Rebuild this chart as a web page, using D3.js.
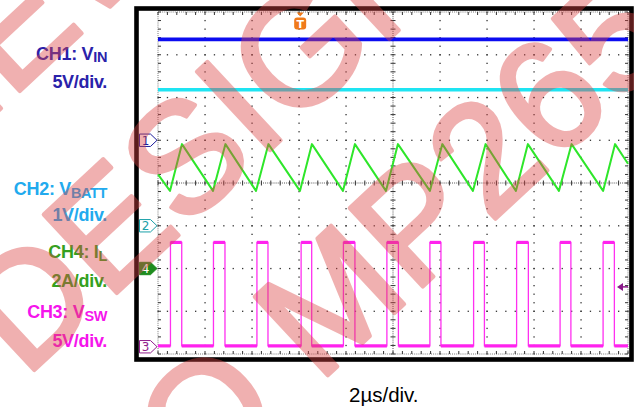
<!DOCTYPE html>
<html>
<head>
<meta charset="utf-8">
<script src="https://cdn.jsdelivr.net/npm/d3@7"></script>
<style>
  html, body { margin: 0; padding: 0; background: #fff; }
  svg { display: block; }
</style>
</head>
<body>
<svg id="chart" width="634" height="407"></svg>
<script>
// ---- Timebase and graticule ----
const timeDomain = [0, 20];          // µs, 10 divisions of 2 µs
const divisionsY = 8;

// ---- Channel settings: units per division, ground marker (divisions from centre) ----
const ch1Scale = 5, ch1Offset = 1;      // VIN, 5 V/div
const ch2Scale = 1, ch2Offset = -1;     // VBATT, 1 V/div
const ch4Scale = 2, ch4Offset = -2;     // IL, 2 A/div
const ch3Scale = 5, ch3Offset = -3.83;  // VSW, 5 V/div

// ---- CH1 / CH2 DC levels (V) ----
const vinLevel = 11.8;
const vbattLevel = 3.18;

// ---- CH3 switch node: edge times (µs) and levels (V) ----
const vswRise = [0.53, 2.36, 4.21, 6.09, 7.89, 9.74, 11.57, 13.43, 15.26, 17.11, 18.94];
const vswFall = [1.01, 2.85, 4.68, 6.54, 8.38, 10.23, 12.04, 13.89, 15.76, 17.57, 19.42];
const vswHigh = 12.2;
const vswLow = 0.1;

// ---- CH4 inductor current vertices ----
const ilTime  = [0, 0.51, 1.02, 2.34, 2.87, 4.17, 4.70, 6.04, 6.55, 7.87, 8.38, 9.70, 10.21, 11.57, 12.10, 13.40, 13.94, 15.23, 15.74, 17.06, 17.60, 18.94, 19.45, 20];
const ilValue = [4.40, 3.63, 5.82, 3.63, 5.82, 3.63, 5.82, 3.63, 5.82, 3.63, 5.82, 3.63, 5.82, 3.63, 5.82, 3.63, 5.82, 3.63, 5.82, 3.63, 5.82, 3.63, 5.82, 4.90];

// ---- Trigger ----
const triggerTime = 6.05;    // µs
const triggerLevel = 7.0;    // V on CH3

// ---- Labels ----
const channelLabels = [
  { main: "CH1: V", sub: "IN",   color: "#2a22aa" },
  { main: "5V/div.", sub: "",    color: "#2a22aa" },
  { main: "CH2: V", sub: "BATT", color: "#22aaee" },
  { main: "1V/div.", sub: "",    color: "#22aaee" },
  { main: "CH4: I", sub: "L",    color: "#35a020" },
  { main: "2A/div.", sub: "",    color: "#35a020" },
  { main: "CH3: V", sub: "SW",   color: "#f514ec" },
  { main: "5V/div.", sub: "",    color: "#f514ec" }
];
const labelBaselines = [59.5, 88.3, 195, 220.7, 258.3, 287.3, 318.3, 346.7];
const timeLabel = "2µs/div.";

// ---- Diagonal notice printed across the page ----
const noticeLines = ["NOT RECOMMENDED FOR NEW", "DESIGNS, REFER", "TO MP2659"];

const svg = d3.select("#chart");
const plot = { left: 158, right: 628, top: 12, bottom: 354 };

const x = d3.scaleLinear().domain(timeDomain).range([plot.left, plot.right]);
const yDiv = d3.scaleLinear().domain([-divisionsY / 2, divisionsY / 2]).range([plot.bottom, plot.top]);
const chY = (scale, offset) => v => yDiv(v / scale + offset);
const y1 = chY(ch1Scale, ch1Offset);
const y2 = chY(ch2Scale, ch2Offset);
const y3 = chY(ch3Scale, ch3Offset);
const y4 = chY(ch4Scale, ch4Offset);

svg.append("rect").attr("width", 634).attr("height", 407).attr("fill", "#fff");

// ---- Scope frame ----
svg.append("rect")
  .attr("x", 136.5).attr("y", 8.5).attr("width", 495).attr("height", 351)
  .attr("fill", "#fff").attr("stroke", "#000").attr("stroke-width", 4.6);

// ---- Graticule ----
const grid = svg.append("g");
const majorX = d3.range(0, 20.001, 2);
const majorY = d3.range(-4, 4.001, 1);
const minorX = d3.range(0, 20.001, 0.4);
const minorY = d3.range(-4, 4.001, 0.2);

// dotted interior division lines
majorX.filter(t => t !== 0 && t !== 20 && t !== 10).forEach(t => {
  grid.selectAll(null).data(minorY).join("rect")
    .attr("x", x(t) - 0.6).attr("y", d => yDiv(d) - 0.6)
    .attr("width", 1.3).attr("height", 1.3).attr("fill", "#333");
});
majorY.filter(d => d !== -4 && d !== 4 && d !== 0).forEach(d => {
  grid.selectAll(null).data(minorX).join("rect")
    .attr("x", t => x(t) - 0.6).attr("y", yDiv(d) - 0.6)
    .attr("width", 1.3).attr("height", 1.3).attr("fill", "#333");
});

// centre cross and outer edges: fine dotted lines with minor ticks
const fine = "1,1.1";
[x(10)].forEach(px => {
  grid.append("line").attr("x1", px).attr("x2", px).attr("y1", plot.top).attr("y2", plot.bottom)
    .attr("stroke", "#555").attr("stroke-dasharray", fine);
  grid.selectAll(null).data(minorY).join("line")
    .attr("x1", px - 2.5).attr("x2", px + 2.5).attr("y1", d => yDiv(d)).attr("y2", d => yDiv(d))
    .attr("stroke", "#333");
});
[yDiv(0)].forEach(py => {
  grid.append("line").attr("y1", py).attr("y2", py).attr("x1", plot.left).attr("x2", plot.right)
    .attr("stroke", "#555").attr("stroke-dasharray", fine);
  grid.selectAll(null).data(minorX).join("line")
    .attr("y1", py - 2.5).attr("y2", py + 2.5).attr("x1", t => x(t)).attr("x2", t => x(t))
    .attr("stroke", "#333");
});
// edges
[[plot.left, 1], [plot.right, -1]].forEach(([px, dir]) => {
  grid.append("line").attr("x1", px).attr("x2", px).attr("y1", plot.top).attr("y2", plot.bottom)
    .attr("stroke", "#777").attr("stroke-dasharray", fine);
  grid.selectAll(null).data(minorY).join("line")
    .attr("x1", px).attr("x2", px + 3 * dir).attr("y1", d => yDiv(d)).attr("y2", d => yDiv(d))
    .attr("stroke", "#333");
});
[[plot.top, 1], [plot.bottom, -1]].forEach(([py, dir]) => {
  grid.append("line").attr("y1", py).attr("y2", py).attr("x1", plot.left).attr("x2", plot.right)
    .attr("stroke", "#777").attr("stroke-dasharray", fine);
  grid.selectAll(null).data(minorX).join("line")
    .attr("y1", py).attr("y2", py + 3 * dir).attr("x1", t => x(t)).attr("x2", t => x(t))
    .attr("stroke", "#333");
});

// ---- Traces ----
const traces = svg.append("g");
const line = d3.line().x(d => x(d[0])).y(d => d[1]);

traces.append("path")
  .attr("d", line([[timeDomain[0], y2(vbattLevel)], [timeDomain[1], y2(vbattLevel)]]))
  .attr("stroke", "#1ee4f2").attr("stroke-width", 3.4).attr("fill", "none");

traces.append("path")
  .attr("d", line([[timeDomain[0], y1(vinLevel)], [timeDomain[1], y1(vinLevel)]]))
  .attr("stroke", "#0c0cf0").attr("stroke-width", 3.6).attr("fill", "none");

// inductor current
traces.append("path")
  .attr("d", line(ilTime.map((t, i) => [t, y4(ilValue[i])])))
  .attr("stroke", "#2ee62a").attr("stroke-width", 2).attr("fill", "none")
  .attr("stroke-linejoin", "round");

// switch node: thin edges plus thicker flat levels
const swPts = [[timeDomain[0], y3(vswLow)]];
vswRise.forEach((r, i) => {
  swPts.push([r, y3(vswLow)], [r, y3(vswHigh)], [vswFall[i], y3(vswHigh)], [vswFall[i], y3(vswLow)]);
});
swPts.push([timeDomain[1], y3(vswLow)]);
traces.append("path").attr("d", line(swPts))
  .attr("stroke", "#ff30f0").attr("stroke-width", 1.3).attr("fill", "none");

const highSegs = vswRise.map((r, i) => [[r, y3(vswHigh)], [vswFall[i], y3(vswHigh)]]);
const lowStarts = [timeDomain[0]].concat(vswFall);
const lowEnds = vswRise.concat([timeDomain[1]]);
const lowSegs = lowStarts.map((s, i) => [[s, y3(vswLow)], [lowEnds[i], y3(vswLow)]]);
traces.append("g")
  .selectAll("path").data(highSegs.concat(lowSegs)).join("path")
  .attr("d", d => line(d))
  .attr("stroke", "#ff22ee").attr("stroke-width", 3.2).attr("fill", "none");

// ---- Channel ground markers ----
const markers = [
  { label: "1", y: yDiv(ch1Offset), stroke: "#1c1c9c", fill: "#fff", text: "#1c1c9c" },
  { label: "2", y: yDiv(ch2Offset), stroke: "#1aa0a8", fill: "#fff", text: "#1aa0a8" },
  { label: "4", y: yDiv(ch4Offset), stroke: "#1e8c1e", fill: "#1e8c1e", text: "#fff" },
  { label: "3", y: yDiv(ch3Offset), stroke: "#90208c", fill: "#fff", text: "#90208c" }
];
const mk = svg.append("g").selectAll("g").data(markers).join("g");
mk.append("path")
  .attr("d", d => `M139.5,${d.y - 6.2}H150.5L157,${d.y}L150.5,${d.y + 6.2}H139.5Z`)
  .attr("fill", d => d.fill).attr("stroke", d => d.stroke).attr("stroke-width", 1);
mk.append("text")
  .attr("x", 145.5).attr("y", d => d.y + 4.3)
  .attr("text-anchor", "middle")
  .attr("font-family", "DejaVu Sans").attr("font-size", 12)
  .attr("fill", d => d.text).text(d => d.label);

// trigger position marker
const tx = x(triggerTime);
const trig = svg.append("g");
trig.append("path").attr("d", `M${tx - 3.5},12.5H${tx + 3.5}L${tx},16.5Z`).attr("fill", "#f07a1a");
trig.append("rect").attr("x", tx - 6).attr("y", 17.5).attr("width", 12).attr("height", 12)
  .attr("rx", 3).attr("fill", "#f07a1a");
trig.append("text").attr("x", tx).attr("y", 27.5).attr("text-anchor", "middle")
  .attr("font-family", "DejaVu Sans").attr("font-weight", "bold").attr("font-size", 11)
  .attr("fill", "#fff").text("T");

// trigger level arrow
const ty = y3(triggerLevel);
svg.append("path").attr("d", `M617,${ty}L623,${ty - 4}V${ty + 4}Z`).attr("fill", "#8a1a8a");
svg.append("line").attr("x1", 620).attr("x2", 628).attr("y1", ty).attr("y2", ty)
  .attr("stroke", "#8a1a8a").attr("stroke-width", 1.5);

// ---- Channel labels ----
const lab = svg.append("g").selectAll("text").data(channelLabels).join("text")
  .attr("x", 107).attr("y", (d, i) => labelBaselines[i])
  .attr("text-anchor", "end")
  .attr("font-family", "Liberation Sans, Arial, sans-serif")
  .attr("font-weight", "bold").attr("font-size", 18)
  .attr("fill", d => d.color);
lab.append("tspan").attr("letter-spacing", -0.3).text(d => d.main);
lab.filter(d => d.sub).append("tspan")
  .attr("font-size", 14.5).attr("dy", 2.5).attr("letter-spacing", -0.4).text(d => d.sub);

svg.append("text").attr("x", 349).attr("y", 401.5)
  .attr("font-family", "Liberation Sans, Arial, sans-serif").attr("font-size", 20.5)
  .attr("fill", "#000").text(timeLabel);

// ---- Diagonal notice ----
const wm = svg.append("g").attr("opacity", 0.42).attr("transform", "rotate(-43)");
const wmPos = [[191, 80, "end"], [-240, 294, "start"], [-286, 498, "start"]];
wm.selectAll("text").data(noticeLines).join("text")
  .attr("x", (d, i) => wmPos[i][0]).attr("y", (d, i) => wmPos[i][1])
  .attr("text-anchor", (d, i) => wmPos[i][2])
  .attr("font-family", "Liberation Sans, Arial, sans-serif")
  .attr("font-size", 156)
  .attr("fill", "#dc4646").attr("stroke", "#dc4646").attr("stroke-width", 4)
  .attr("stroke-linejoin", "round")
  .text(d => d);
</script>
</body>
</html>
